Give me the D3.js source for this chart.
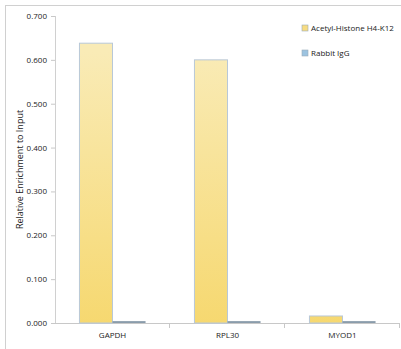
<!DOCTYPE html>
<html>
<head>
<meta charset="utf-8">
<script src="https://cdn.jsdelivr.net/npm/d3@7"></script>
<style>
    body { margin: 0; background: #fff; }
    text { font-family: "Open Sans", "Liberation Sans", sans-serif; fill: #222; }
</style>
</head>
<body>
<svg id="chart" width="401" height="349"></svg>
<script>
    var categories = ["GAPDH", "RPL30", "MYOD1"];
    var seriesNames = ["Acetyl-Histone H4-K12", "Rabbit IgG"];
    var acetylValues = [0.638, 0.600, 0.016];
    var iggValues = [0.002, 0.002, 0.002];
    var yTicks = [0, 0.1, 0.2, 0.3, 0.4, 0.5, 0.6, 0.7];

    var margin = { top: 16, bottom: 26, left: 55, right: 1 };

    var svg = d3.select("#chart");
    var w = +svg.attr("width");
    var h = +svg.attr("height");
    var width = w - margin.left - margin.right;
    var height = h - margin.top - margin.bottom;

    // outer frame (left and top only visible)
    svg.append("line").attr("x1", 5.5).attr("x2", 5.5).attr("y1", 5).attr("y2", h)
        .attr("stroke", "#d0d0d0");
    svg.append("line").attr("x1", 5).attr("x2", w).attr("y1", 5.5).attr("y2", 5.5)
        .attr("stroke", "#d0d0d0");

    var defs = svg.append("defs");
    var grad = defs.append("linearGradient")
        .attr("id", "yellowGrad")
        .attr("gradientUnits", "userSpaceOnUse")
        .attr("x1", 0).attr("x2", 0)
        .attr("y1", margin.top + height).attr("y2", margin.top + 20);
    grad.append("stop").attr("offset", "0%").attr("stop-color", "#f6d76c");
    grad.append("stop").attr("offset", "100%").attr("stop-color", "#f9ebb6");

    var chart = svg.append("g")
        .attr("transform", "translate(" + margin.left + "," + margin.top + ")");

    var x = d3.scaleBand().domain(categories).range([0, width]);
    var xInner = d3.scaleBand().domain(seriesNames)
        .range([0, x.bandwidth()]).paddingOuter(0.74).paddingInner(0);
    var y = d3.scaleLinear().domain([0, 0.7]).range([height, 0]);

    // y axis
    var yAxis = d3.axisLeft(y).tickValues(yTicks).tickFormat(d3.format(".3f"))
        .tickSize(4).tickPadding(4);
    var yg = chart.append("g").attr("class", "y axis").call(yAxis);
    yg.select(".domain").attr("stroke", "#d0d0d0").attr("d", "M0.5,0V" + height);
    yg.selectAll(".tick line").attr("stroke", "#c8c8c8");
    yg.selectAll(".tick text").style("font-size", "8px").attr("fill", "#333");

    // x axis
    var xAxis = d3.axisBottom(x).tickSize(0).tickPadding(9);
    var xg = chart.append("g").attr("class", "x axis")
        .attr("transform", "translate(0," + height + ")").call(xAxis);
    xg.select(".domain").attr("stroke", "#c8c8c8").attr("d", "M0," + 0.5 + "H" + width);
    xg.selectAll(".tick text").style("font-size", "8px").attr("fill", "#333");
    // category separator ticks
    xg.selectAll(".sep")
        .data(categories.slice(1).concat(["end"]))
        .enter().append("line")
        .attr("x1", function(d, i) { return Math.round(x.step() * (i + 1)) - 0.5; })
        .attr("x2", function(d, i) { return Math.round(x.step() * (i + 1)) - 0.5; })
        .attr("y1", 0).attr("y2", 5)
        .attr("stroke", "#c8c8c8");

    // bars
    var groups = chart.selectAll(".group")
        .data(categories)
        .enter().append("g")
        .attr("transform", function(d) { return "translate(" + x(d) + ",0)"; });

    groups.append("rect")
        .attr("x", xInner(seriesNames[0]))
        .attr("y", function(d, i) { return y(acetylValues[i]); })
        .attr("width", xInner.bandwidth())
        .attr("height", function(d, i) { return height - y(acetylValues[i]); })
        .attr("fill", "url(#yellowGrad)")
        .attr("stroke", "#b8c8d8")
        .attr("stroke-width", 1);

    groups.append("rect")
        .attr("x", xInner(seriesNames[1]))
        .attr("y", function(d, i) { return y(iggValues[i]) - 1; })
        .attr("width", xInner.bandwidth())
        .attr("height", function(d, i) { return height - y(iggValues[i]) + 1; })
        .attr("fill", "#8a9cab");

    // y label
    svg.append("text")
        .attr("transform", "translate(23," + (margin.top + height / 2) + ") rotate(-90)")
        .style("text-anchor", "middle")
        .style("font-size", "9px")
        .text("Relative Enrichment to Input");

    // legend
    var legendColors = ["#f7dc82", "#9cc3e0"];
    var legend = svg.selectAll(".legend")
        .data(seriesNames)
        .enter().append("g")
        .attr("transform", function(d, i) { return "translate(302," + (25 + i * 25) + ")"; });
    legend.append("rect")
        .attr("width", 6).attr("height", 6)
        .attr("fill", function(d, i) { return legendColors[i]; })
        .attr("stroke", "#9aabb8").attr("stroke-width", 0.6);
    legend.append("text")
        .attr("x", 9).attr("y", 6)
        .style("font-size", "8px")
        .text(function(d) { return d; });
</script>
</body>
</html>
